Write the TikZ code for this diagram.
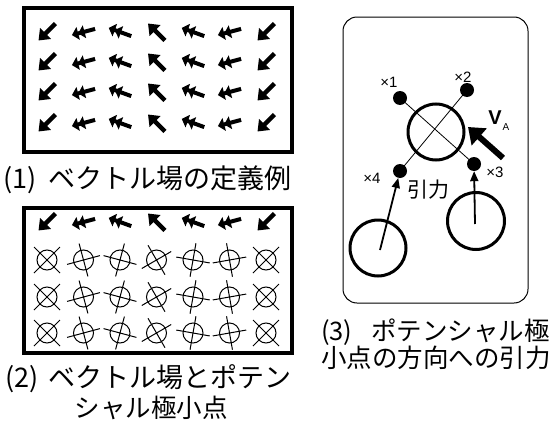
\documentclass[tikz,border=0pt]{standalone}
\usepackage{fontspec}
\setmainfont{Noto Sans CJK JP}
\newfontfamily\latf{Liberation Sans}
\usetikzlibrary{arrows.meta,calc}
\newcommand{\pnum}[2]{\makebox[#1][l]{#2}}
\begin{document}
\begin{tikzpicture}[x=1pt,y=-1pt,
  vec/.style={line width=4.5pt,-{Triangle[width=15pt,length=10pt]}},
  dvec/.style={line width=4pt,-{Triangle[width=13pt,length=6.5pt]Triangle[width=13pt,length=6.5pt]}},
  glyph/.style={line width=1pt},
  frame/.style={line width=4.5pt},
  captxt/.style={inner sep=0pt,font=\fontsize{27}{27}\selectfont},
  captxtb/.style={inner sep=0pt,font=\fontsize{25.5}{25.5}\selectfont},
  dot/.style={circle,fill=black,minimum size=14pt,inner sep=0pt},
  ring/.style={circle,draw,line width=3pt,minimum size=56pt,inner sep=0pt},
  small/.style={inner sep=0pt,font=\latf\fontsize{15}{15}\selectfont},
  pull/.style={line width=1.8pt,-{Triangle[width=8pt,length=10pt]}}
]
\useasboundingbox (0,0) rectangle (557,423);
% ---------- panel 1 ----------
\draw[frame] (24,8) rectangle (292,152);
\foreach \i/\a/\s in {0/135/vec,1/165/dvec,2/200/dvec,3/225/vec,4/200/dvec,5/165/dvec,6/135/vec} {
  \foreach \yy in {32,62,92,123} {
    \draw[\s] ($(47+36.5*\i,\yy)+(\a+180:12)$) -- ($(47+36.5*\i,\yy)+(\a:12)$);
  }
}
\node[captxt,anchor=west] (c1) at (3,180) {\pnum{45pt}{(1)}ベクトル場の定義例};
% ---------- panel 2 ----------
\draw[frame] (24,208) rectangle (292,353);
\foreach \i/\a/\s in {0/135/vec,1/165/dvec,2/200/dvec,3/225/vec,4/200/dvec,5/165/dvec,6/135/vec} {
  \draw[\s] ($(47+36.5*\i,222)+(\a+180:12)$) -- ($(47+36.5*\i,222)+(\a:12)$);
}
\foreach \yy in {260,297,333} {
  \foreach \i in {0,6} {
    \draw[glyph] (47+36.5*\i,\yy) circle (10);
    \draw[glyph] (47+36.5*\i-13,\yy-13) -- (47+36.5*\i+13,\yy+13)
                 (47+36.5*\i-13,\yy+13) -- (47+36.5*\i+13,\yy-13);
  }
  \foreach \i/\r in {1/15,2/-15,3/30,4/-10,5/10} {
    \draw[glyph] (47+36.5*\i,\yy) circle (10);
    \draw[glyph,rotate around={\r:(47+36.5*\i,\yy)}]
      (47+36.5*\i-17,\yy) -- (47+36.5*\i+17,\yy)
      (47+36.5*\i,\yy-17) -- (47+36.5*\i,\yy+17);
  }
}
\node[captxt,anchor=west] (c2a) at (5,379) {\pnum{43pt}{(2)}ベクトル場とポテン};
\node[captxtb] (c2b) at (151,408) {シャル極小点};
% ---------- panel 3 ----------
\draw[line width=1pt,rounded corners=14pt] (343,17) rectangle (528,303);
\node[ring] (big) at (436,132) {};
\node[dot] (x1) at (400,98) {};
\node[dot] (x2) at (467,90) {};
\node[dot] (x3) at (474,164) {};
\node[dot] (x4) at (400,171) {};
\draw[line width=0.8pt] (x1.center) -- (x3.center) (x2.center) -- (x4.center);
\node[small] (l1) at (389,82) {×1};
\node[small] (l2) at (463,77) {×2};
\node[small] (l3) at (495,172) {×3};
\node[small] (l4) at (372,178) {×4};
\coordinate (vt) at (503,158);
\coordinate (vh) at (468,127);
\draw[line width=6pt,-{Triangle[width=22pt,length=15pt]}] (vt) -- (vh);
\node[inner sep=0pt,font=\latf\bfseries\fontsize{20}{20}\selectfont] (va) at (495,118) {V};
\node[inner sep=0pt,font=\latf\fontsize{10}{10}\selectfont] (vas) at (506,127) {A};
\node[inner sep=0pt,font=\fontsize{21}{21}\selectfont] (pl) at (428,190) {引力};
\node[circle,draw,line width=3pt,minimum size=56pt,inner sep=0pt] (cl) at (378,248) {};
\node[circle,draw,line width=3pt,minimum size=57pt,inner sep=0pt] (cr) at (476,221) {};
\coordinate (sl) at (380,250);
\coordinate (sr) at (475,224);
\draw[pull] (sl) -- (x4);
\draw[pull] (sr) -- (x3);
\node[captxtb,anchor=west] (c3a) at (321,332) {\pnum{50pt}{(3)}ポテンシャル極};
\node[captxtb,anchor=west] (c3b) at (321,358) {小点の方向への引力};
\end{tikzpicture}
\end{document}
